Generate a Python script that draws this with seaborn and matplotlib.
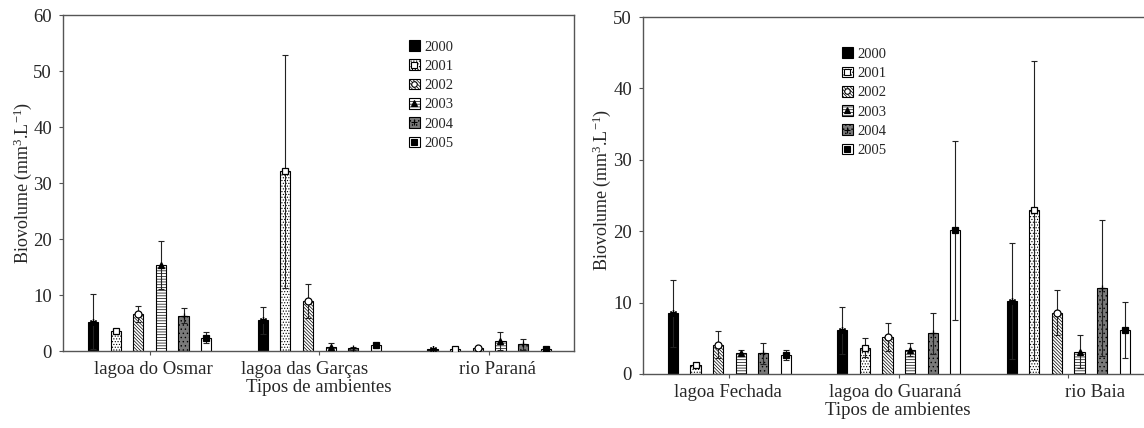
import numpy as np
import pandas as pd
import seaborn as sns
import matplotlib.pyplot as plt
from matplotlib.patches import Patch
from matplotlib.lines import Line2D
from matplotlib.legend_handler import HandlerTuple

# === DADOS ===
years = ["2000", "2001", "2002", "2003", "2004", "2005"]

left_sites = ["lagoa do Osmar", "lagoa das Garças", "rio Paraná"]
right_sites = ["lagoa Fechada", "lagoa do Guaraná", "rio Baia"]

# médias: uma linha por ambiente, uma coluna por ano
left_mean = [
    [5.2, 3.6, 6.6, 15.4, 6.3, 2.4],
    [5.5, 32.1, 8.9, 0.8, 0.5, 1.0],
    [0.35, 0.4, 0.6, 1.8, 1.2, 0.35],
]
left_sd = [
    [4.9, 0.4, 1.5, 4.3, 1.3, 1.0],
    [2.4, 20.8, 3.0, 0.6, 0.3, 0.4],
    [0.2, 0.2, 0.2, 1.6, 1.0, 0.1],
]
right_mean = [
    [8.5, 1.2, 4.1, 2.9, 2.9, 2.7],
    [6.1, 3.7, 5.2, 3.4, 5.7, 20.1],
    [10.2, 22.9, 8.6, 3.1, 12.0, 6.2],
]
right_sd = [
    [4.7, 0.3, 1.9, 0.4, 1.5, 0.7],
    [3.3, 1.3, 2.0, 0.9, 2.9, 12.6],
    [8.1, 20.9, 3.2, 2.3, 9.5, 3.9],
]

# === ESTILO ===
bar_colors = {"2000": "black", "2001": "white", "2002": "white",
              "2003": "white", "2004": "#7a7a7a", "2005": "white"}
bar_hatch = {"2000": "", "2001": "......", "2002": "\\" * 10,
             "2003": "------", "2004": "....", "2005": ""}
# (marcador, cor da face)
bar_marker = {"2000": ((6, 2, 0), "black"), "2001": ("s", "white"),
              "2002": ("o", "white"), "2003": ("^", "black"),
              "2004": ("+", "black"), "2005": ("s", "black")}

sns.set_theme(style="ticks")
plt.rcParams["font.family"] = ["Liberation Serif", "DejaVu Serif"]
plt.rcParams["mathtext.fontset"] = "custom"
plt.rcParams["mathtext.rm"] = "Liberation Serif"
plt.rcParams["mathtext.it"] = "Liberation Serif:italic"
plt.rcParams["hatch.color"] = "black"
plt.rcParams["hatch.linewidth"] = 0.5
plt.rcParams["axes.edgecolor"] = "#555555"
plt.rcParams["axes.linewidth"] = 1.0

FS = 13.5


def draw_panel(ax, sites, mean, sd, ymax, label_shift, ylabel_xy, leg_anchor):
    df = pd.DataFrame([
        {"site": s, "year": y, "mean": mean[i][j]}
        for i, s in enumerate(sites) for j, y in enumerate(years)
    ])
    sns.barplot(data=df, x="site", y="mean", hue="year", order=sites,
                hue_order=years, palette=bar_colors, saturation=1,
                errorbar=None, width=0.8, gap=0.55, edgecolor="black",
                linewidth=0.8, legend=False, ax=ax)

    for j, y in enumerate(years):
        xs, tops = [], []
        for bar in ax.containers[j]:
            bar.set_hatch(bar_hatch[y])
            xs.append(bar.get_x() + bar.get_width() / 2)
            tops.append(bar.get_height())
        errs = [sd[i][j] for i in range(len(sites))]
        ax.errorbar(xs, tops, yerr=errs, fmt="none", ecolor="#222222",
                    elinewidth=0.8, capsize=2.2, capthick=0.8, zorder=3)
        m, fc = bar_marker[y]
        ax.plot(xs, tops, ls="none", marker=m, mfc=fc, mec="black",
                mew=0.9, ms=5, zorder=4)

    ax.set_xlim(-0.51, 2.5)
    ax.set_ylim(0, ymax)
    ax.set_yticks(range(0, ymax + 1, 10))
    ax.set_xticks([0, 1, 2], minor=True)
    ax.set_xticks(np.arange(3) + np.array(label_shift), labels=sites)
    ax.tick_params(axis="x", which="major", length=0, pad=7, labelsize=FS)
    ax.tick_params(axis="x", which="minor", length=3, width=0.8,
                   direction="out", color="#555555")
    ax.tick_params(axis="y", length=3, width=0.8, pad=5, labelsize=FS,
                   color="#555555")
    ax.set_xlabel("Tipos de ambientes", fontsize=FS, labelpad=1)
    ax.set_ylabel("Biovolume (mm$^3$.L$^{-1}$)", fontsize=13)
    ax.yaxis.set_label_coords(*ylabel_xy)

    handles = []
    for y in years:
        m, fc = bar_marker[y]
        handles.append((
            Patch(facecolor=bar_colors[y], edgecolor="black",
                  hatch=bar_hatch[y], linewidth=0.8),
            Line2D([], [], ls="none", marker=m, mfc=fc, mec="black",
                   mew=0.8, ms=4),
        ))
    ax.legend(handles, years, handler_map={tuple: HandlerTuple(ndivide=1)},
              loc="upper left", bbox_to_anchor=leg_anchor, frameon=False,
              fontsize=10.5, handlelength=0.75, handleheight=0.75,
              handletextpad=0.3, labelspacing=0.4, borderpad=0,
              borderaxespad=0)


fig = plt.figure(figsize=(11.44, 4.28), dpi=100)
W, H = 1144, 428
ax1 = fig.add_axes([63 / W, (H - 351) / H, (574 - 63) / W, (351 - 15) / H])
ax2 = fig.add_axes([643 / W, (H - 374) / H, (1153 - 643) / W, (374 - 17) / H])

draw_panel(ax1, left_sites, left_mean, left_sd, 60,
           [0.02, -0.09, 0.05], (-0.056, 0.5), (0.677, 0.925))
draw_panel(ax2, right_sites, right_mean, right_sd, 50,
           [-0.01, -0.02, 0.16], (-0.058, 0.517), (0.39, 0.915))

fig.savefig("out.png", dpi=100)
